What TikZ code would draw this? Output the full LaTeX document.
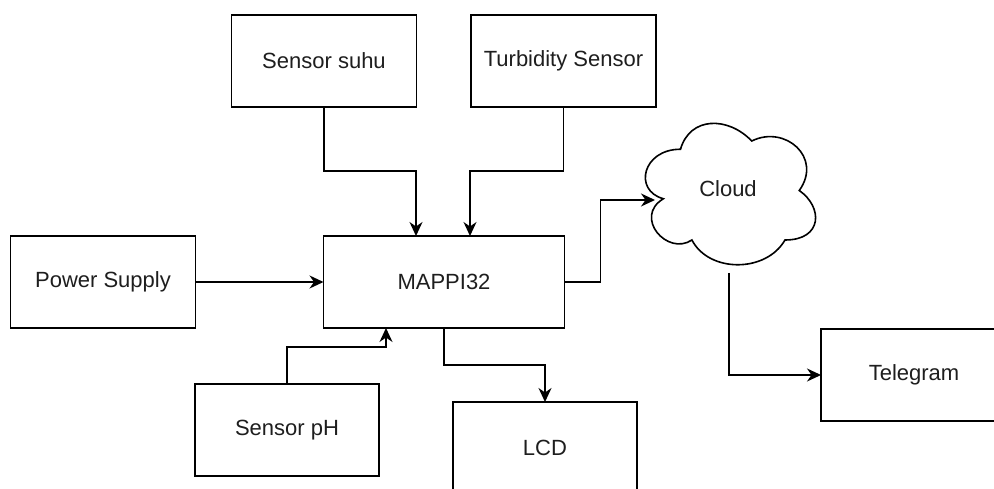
\documentclass[tikz,border=0pt]{standalone}
\usepackage{fontspec}
\setmainfont{Liberation Sans}
\usetikzlibrary{arrows.meta}
\definecolor{txt}{RGB}{30,30,30}
\begin{document}
\begin{tikzpicture}[x=1pt,y=-1pt,
  box/.style={draw=black,line width=1.6pt,fill=white,rectangle,inner sep=0pt,outer sep=0pt,
    minimum width=185pt,minimum height=92pt,text=txt,font=\fontsize{22}{26}\selectfont},
  arr/.style={draw=black,line width=1.6pt,-{Stealth[length=14pt,width=13pt,inset=4.5pt]}},
  lbl/.style={text=txt,font=\fontsize{22}{26}\selectfont,inner sep=0pt}]
\useasboundingbox (0,0) rectangle (994,489);
\clip (0,0) rectangle (994,489);
\fill[white] (0,0) rectangle (994,489);

% boxes
\node[box] (suhu) at (324,61) {Sensor suhu};
\node[box] (turb) at (563.5,61) {Turbidity Sensor};
\node[box] (power) at (103,282) {Power Supply};
\node[box,minimum width=241pt] (mappi) at (444,282) {MAPPI32};
\node[box,minimum width=184pt] (ph) at (287,430) {Sensor pH};
\node[box,minimum width=184pt] (lcd) at (545,448) {LCD};
\node[box,minimum width=186pt] (telegram) at (914,375) {Telegram};

% cloud
\def\cw{190}\def\ch{165}
\begin{scope}[shift={(633,108)}]
\draw[line width=1.6pt,fill=white]
  ({.25*\cw},{.25*\ch})
  .. controls ({.05*\cw},{.25*\ch}) and (0,{.5*\ch}) .. ({.16*\cw},{.55*\ch})
  .. controls (0,{.66*\ch}) and ({.18*\cw},{.9*\ch}) .. ({.31*\cw},{.8*\ch})
  .. controls ({.4*\cw},{\ch}) and ({.7*\cw},{\ch}) .. ({.8*\cw},{.8*\ch})
  .. controls ({\cw},{.8*\ch}) and ({\cw},{.6*\ch}) .. ({.875*\cw},{.5*\ch})
  .. controls ({\cw},{.3*\ch}) and ({.8*\cw},{.1*\ch}) .. ({.625*\cw},{.2*\ch})
  .. controls ({.5*\cw},{.05*\ch}) and ({.3*\cw},{.05*\ch}) .. ({.25*\cw},{.25*\ch}) -- cycle;
\end{scope}
\node[lbl] (cloud) at (728,189) {Cloud};
\coordinate (cloudW) at (655,200);
\coordinate (cloudS) at (729,273);

% connectors
\draw[arr] (suhu.south) -- ++(0,64) -| ([xshift=-28pt]mappi.north);
\draw[arr] (turb.south) -- ++(0,64) -| ([xshift=26pt]mappi.north);
\draw[arr] (power.east) -- (mappi.west);
\draw[arr] (ph.north) -- ++(0,-37) -| ([xshift=-58pt]mappi.south);
\draw[arr] (mappi.south) -- ++(0,37) -| (lcd.north);
\draw[arr] (mappi.east) -- ++(36,0) |- (cloudW);
\draw[arr] (cloudS) |- (telegram.west);
\end{tikzpicture}
\end{document}
